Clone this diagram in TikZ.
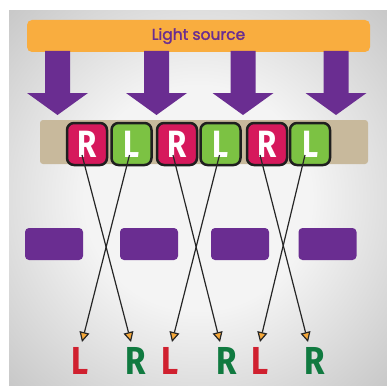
\documentclass[tikz,border=0pt]{standalone}
\usepackage{fontspec}
\usetikzlibrary{arrows.meta}
\newfontfamily\titlefont{Poppins}[FakeBold=1.6]
\newfontfamily\letterfont{Fira Sans}
\definecolor{lsorange}{HTML}{F9AD3F}
\definecolor{lspurple}{HTML}{6A2D91}
\definecolor{bartan}{HTML}{C8B99C}
\definecolor{rcol}{HTML}{D6195C}
\definecolor{lcol}{HTML}{7CC243}
\definecolor{labred}{HTML}{D0202F}
\definecolor{labgreen}{HTML}{107A40}
\definecolor{tipor}{HTML}{F5A83A}
\definecolor{bgin}{HTML}{F4F4F4}
\definecolor{bgout}{HTML}{A9A9A9}
\pgfdeclareradialshading{bgshade}{\pgfpointorigin}{color(0bp)=(bgin); color(15bp)=(bgin); color(50bp)=(bgout)}
\newcommand{\tileletter}[1]{\letterfont\bfseries\fontsize{38}{38}\selectfont\scalebox{0.82}[1]{#1}}
\newcommand{\labletter}[1]{\letterfont\bfseries\fontsize{39}{39}\selectfont\scalebox{0.85}[1]{#1}}
\tikzset{
  tile/.style={draw=black!88, line width=2.5pt, rounded corners=7pt, minimum width=40pt, minimum height=42pt, inner sep=0pt, text=white},
  rtile/.style={tile, fill=rcol},
  ltile/.style={tile, fill=lcol},
  pbox/.style={fill=lspurple, rounded corners=4pt, minimum width=58pt, minimum height=32pt, inner sep=0pt},
  lab/.style={inner sep=0pt},
  conn/.style={draw=black!85, line width=1.2pt, -{Triangle[length=10pt,width=10pt,fill=tipor]}},
  bigarrow/.style={fill=lspurple}
}
\begin{document}
\begin{tikzpicture}[x=1pt,y=-1pt]
\useasboundingbox (0,0) rectangle (387,385);
\fill[white] (0,0) rectangle (387,385);
\shade[shading=bgshade] (9,11) rectangle (387,385);
% light source
\node[fill=lsorange, rounded corners=5pt, minimum width=343pt, minimum height=32pt, inner sep=0pt] (light) at (198.5,36)
  {\titlefont\fontsize{15.5}{16}\selectfont\color{lspurple}Light source};
% big arrows
\foreach \cx in {57.5,156.5,243,336}{
  \fill[bigarrow] ({\cx-12.5},51) -- ({\cx+12.5},51) -- ({\cx+12.5},93) -- ({\cx+30.5},93)
    -- (\cx,115) -- ({\cx-30.5},93) -- ({\cx-12.5},93) -- cycle;
}
% filter bar
\node[fill=bartan, rounded corners=3pt, minimum width=328pt, minimum height=44pt, inner sep=0pt] (bar) at (204,142) {};
\node[rtile] (t1) at (87,144) {\tileletter{R}};
\node[ltile] (t2) at (131.5,144) {\tileletter{L}};
\node[rtile] (t3) at (177,144) {\tileletter{R}};
\node[ltile] (t4) at (220.5,144) {\tileletter{L}};
\node[rtile] (t5) at (267,144) {\tileletter{R}};
\node[ltile] (t6) at (310,144) {\tileletter{L}};
% purple boxes
\node[pbox] (p1) at (54,244) {};
\node[pbox] (p2) at (149,244) {};
\node[pbox] (p3) at (240,244) {};
\node[pbox] (p4) at (327.5,244) {};
% labels
\node[lab, text=labred] (b1) at (80,361) {\labletter{L}};
\node[lab, text=labgreen] (b2) at (136,361) {\labletter{R}};
\node[lab, text=labred] (b3) at (170,361) {\labletter{L}};
\node[lab, text=labgreen] (b4) at (227,361) {\labletter{R}};
\node[lab, text=labred] (b5) at (260,361) {\labletter{L}};
\node[lab, text=labgreen] (b6) at (315,361) {\labletter{R}};
% connectors
\coordinate (e1) at (82,342);
\coordinate (e2) at (131,342);
\coordinate (e3) at (172,342);
\coordinate (e4) at (220,342);
\coordinate (e5) at (260,342);
\coordinate (e6) at (308,342);
\draw[conn] ([shift={(-5,11)}]t1.center) -- (e2);
\draw[conn] ([shift={(-2,11)}]t2.center) -- (e1);
\draw[conn] ([shift={(-4,11)}]t3.center) -- (e4);
\draw[conn] ([shift={(-1,11)}]t4.center) -- (e3);
\draw[conn] ([shift={(-7,11)}]t5.center) -- (e6);
\draw[conn] ([shift={(-5,11)}]t6.center) -- (e5);
\end{tikzpicture}
\end{document}
